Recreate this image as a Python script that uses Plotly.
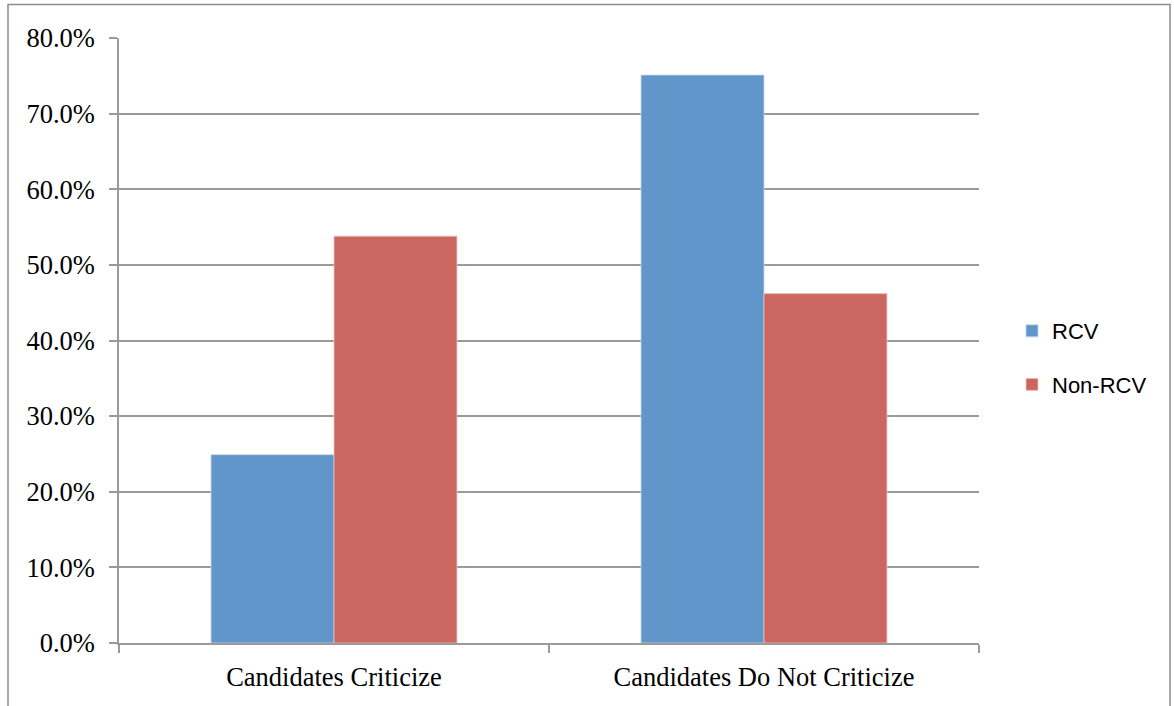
import plotly.graph_objects as go

categories = ["Candidates Criticize", "Candidates Do Not Criticize"]
rcv = [0.249, 0.751]
non_rcv = [0.538, 0.462]

L, R, T, B = 119, 195, 38, 63
W, H = 1174, 706
pw, ph = W - L - R, H - T - B

fig = go.Figure()
fig.add_trace(go.Bar(x=categories, y=rcv, name="RCV", legendgroup="a",
                     marker=dict(color="#6096C9", line=dict(color="#C5D7EA", width=0.8))))
fig.add_trace(go.Bar(x=categories, y=non_rcv, name="Non-RCV", legendgroup="b",
                     marker=dict(color="#CC6660", line=dict(color="#EBC3C0", width=0.8))))

grid = "#9A9A9A"
fig.update_layout(
    width=W, height=H,
    margin=dict(l=L, r=R, t=T, b=B, pad=0),
    paper_bgcolor="white", plot_bgcolor="white",
    barmode="group", bargap=0.428, bargroupgap=0,
    showlegend=True,
    legend=dict(x=(1012 - L) / pw, xanchor="left", y=1 - (358 - T) / ph, yanchor="middle",
                font=dict(family="Liberation Sans", size=22, color="black"),
                traceorder="grouped", tracegroupgap=22, itemwidth=30),
    font=dict(family="Liberation Serif", color="black"),
    xaxis=dict(showline=True, linecolor=grid, linewidth=1.5, ticks="outside",
               tickson="boundaries", ticklen=8, tickcolor=grid, tickwidth=1.5,
               ticklabelstandoff=9,
               tickfont=dict(family="Liberation Serif", size=26.5, color="black"),
               showgrid=False),
    yaxis=dict(range=[0, 0.8], dtick=0.1, tickformat=".1%", showline=True,
               linecolor=grid, linewidth=1.5, ticks="outside", ticklen=8,
               tickcolor=grid, tickwidth=1.5, showgrid=True, gridcolor=grid,
               gridwidth=1.5, zeroline=False, ticklabelstandoff=9,
               tickfont=dict(family="Liberation Serif", size=26.5, color="black")),
    shapes=[dict(type="rect", xref="paper", yref="paper",
                 x0=(8 - L) / pw, x1=(1170 - L) / pw,
                 y0=-(712 - H + B) / ph, y1=1 + (T - 4.5) / ph,
                 line=dict(color="#8C8C8C", width=1.5), layer="below")],
)

fig.write_html("out.html")
